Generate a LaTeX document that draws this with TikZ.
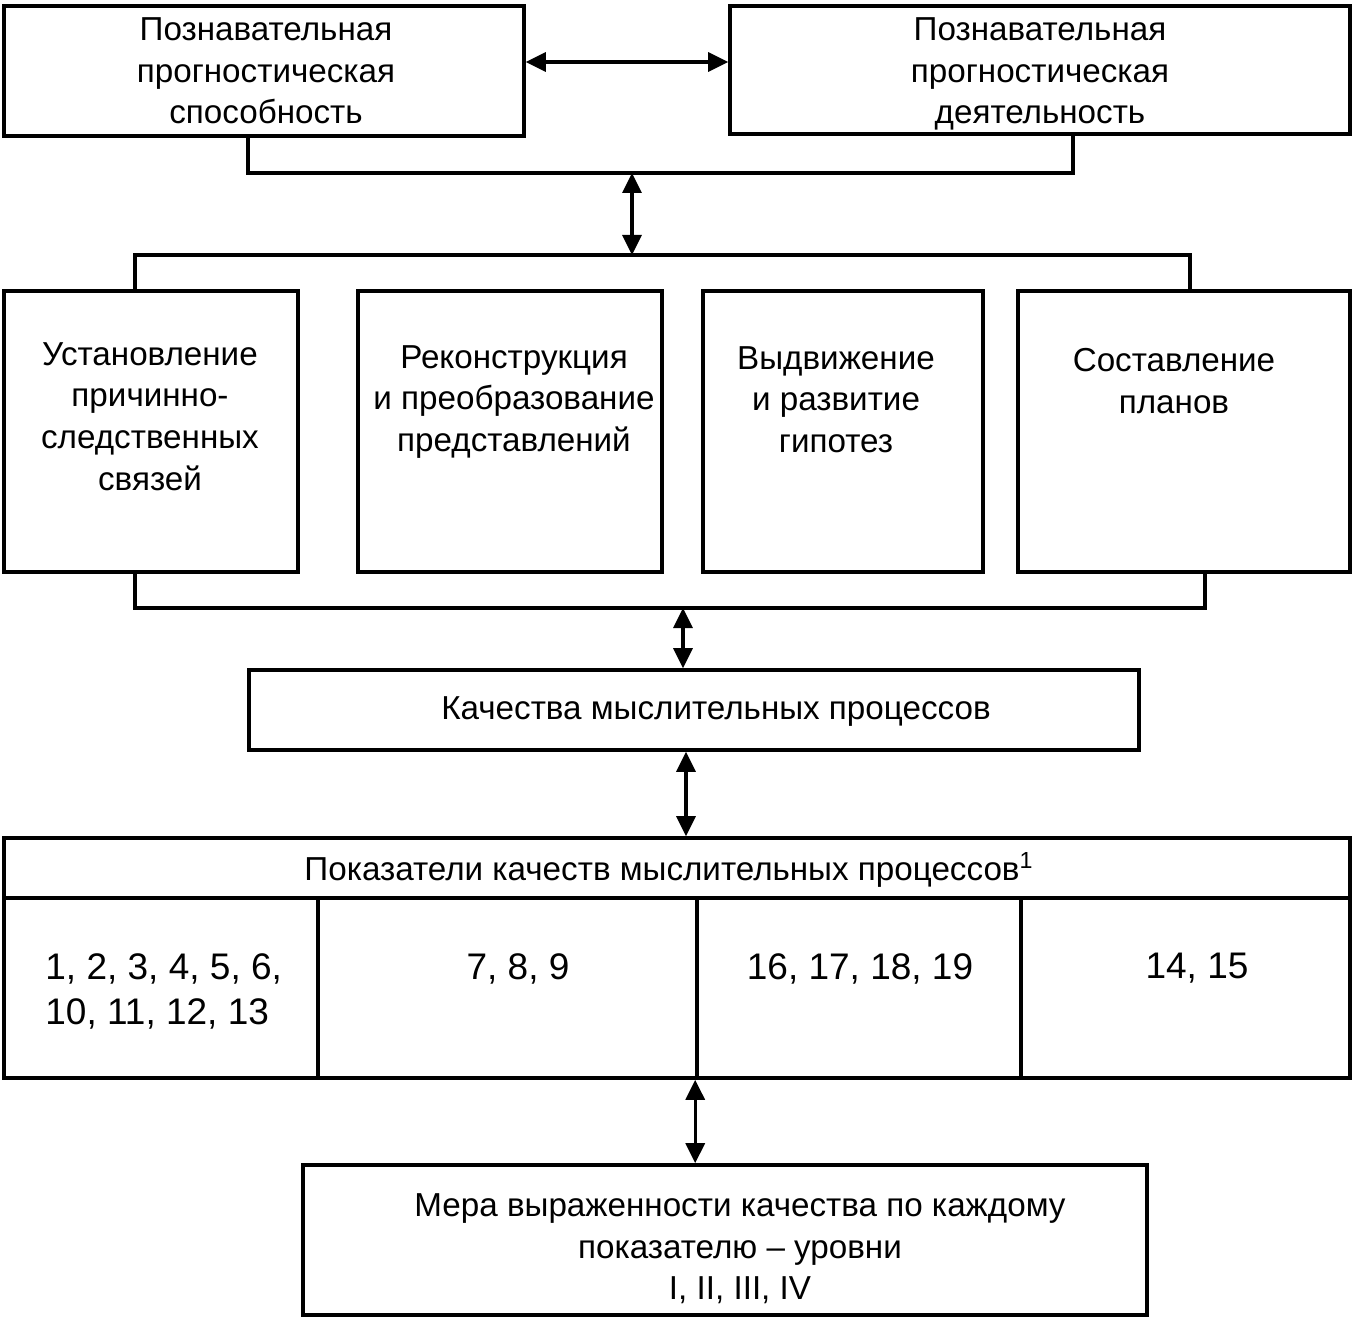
\documentclass[tikz,border=0pt]{standalone}
\usepackage{fontspec}
\setmainfont{Liberation Sans}
\usetikzlibrary{arrows.meta}
\begin{document}
\begin{tikzpicture}[x=0.5pt,y=-0.5pt,
  box/.style={draw, line width=1.8pt, inner sep=0pt, align=center,
    font=\fontsize{16.6pt}{20.5pt}\selectfont},
  txt/.style={inner sep=0pt, align=center, font=\fontsize{16.6pt}{20.8pt}\selectfont},
  num/.style={inner sep=0pt, align=left, font=\fontsize{18.5pt}{22.5pt}\selectfont},
  line/.style={line width=1.6pt},
  arr/.style={line width=1.6pt, {Triangle[length=10pt,width=9.5pt]}-{Triangle[length=10pt,width=9.5pt]}}]
\useasboundingbox (0,0) rectangle (1354,1320);
% top boxes
\node[box, minimum width=260pt, minimum height=65pt] (A) at (264,71) {};
\node[txt] (tA) at (266,71) {Познавательная\\прогностическая\\способность};
\node[box, minimum width=310pt, minimum height=64pt] (B) at (1040,70) {};
\node[txt] (tB) at (1040,74) {Познавательная\\прогностическая\\деятельность};
\coordinate (y62) at (0,62);
\draw[arr] (A.east |- y62) -- (B.west |- y62);
% top bus
\coordinate (tL) at (248,173);
\coordinate (tR) at (1073,173);
\draw[line] (A.south -| tL) -- (tL) -- (tR) -- (B.south -| tR);
\coordinate (jt) at (632,173);
\coordinate (jm) at (632,255);
\draw[arr] (jt) -- (jm);
% row boxes
\node[box, minimum width=147pt, minimum height=140.5pt] (r1) at (151,431.5) {};
\node[box, minimum width=152pt, minimum height=140.5pt] (r2) at (510,431.5) {};
\node[box, minimum width=140pt, minimum height=140.5pt] (r3) at (843,431.5) {};
\node[box, minimum width=166pt, minimum height=140.5pt] (r4) at (1184,431.5) {};
\node[txt, anchor=north] (t1) at (150,342) {Установление\\причинно-\\следственных\\связей};
\node[txt, anchor=north] (t2) at (514,345) {Реконструкция\\и преобразование\\представлений};
\node[txt, anchor=north] (t3) at (836,346) {Выдвижение\\и развитие\\гипотез};
\node[txt, anchor=north] (t4) at (1174,348) {Составление\\планов};
\coordinate (mL) at (135,255);
\coordinate (mR) at (1190,255);
\draw[line] (r1.north -| mL) -- (mL) -- (mR) -- (r4.north -| mR);
\coordinate (bL) at (135,608);
\coordinate (bR) at (1205,608);
\draw[line] (r1.south -| bL) -- (bL) -- (bR) -- (r4.south -| bR);
% qualities box
\node[box, minimum width=445pt, minimum height=40pt] (Q) at (694,710) {};
\node[txt] (tQ) at (716,712) {Качества мыслительных процессов};
\coordinate (bA) at (683,608);
\draw[arr] (bA) -- (Q.north -| bA);
% table
\node[box, minimum width=673pt, minimum height=30pt] (H) at (677,868) {};
\node[txt] (tH) at (669,870) {Показатели качеств мыслительных процессов\textsuperscript{1}};
\node[box, minimum width=157pt, minimum height=90pt] (c1) at (161,988) {};
\node[box, minimum width=189.5pt, minimum height=90pt] (c2) at (507.5,988) {};
\node[box, minimum width=162pt, minimum height=90pt] (c3) at (859,988) {};
\node[box, minimum width=164.5pt, minimum height=90pt] (c4) at (1185.5,988) {};
\coordinate (qa) at (686,0);
\draw[arr] (Q.south -| qa) -- (H.north -| qa);
\node[num, anchor=north west] (n1) at (45,953) {1, 2, 3, 4, 5, 6,\\10, 11, 12, 13};
\node[num, anchor=north] (n2) at (518,953) {7, 8, 9};
\node[num, anchor=north] (n3) at (860,953) {16, 17, 18, 19};
\node[num, anchor=north] (n4) at (1197,953) {14, 15};
% bottom box
\node[box, minimum width=422pt, minimum height=75pt] (M) at (725,1240) {};
\node[txt] (tM) at (740,1249) {Мера выраженности качества по каждому\\показателю – уровни\\I, II, III, IV};
\draw[arr] (c3.south west) -- (M.north -| c3.south west);
\end{tikzpicture}
\end{document}
